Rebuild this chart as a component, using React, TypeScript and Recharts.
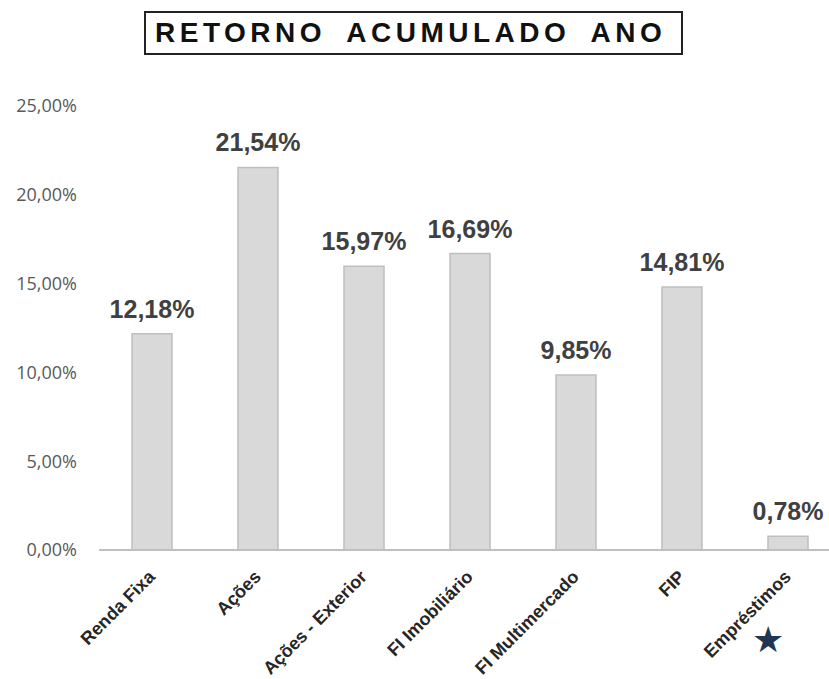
import React from 'react';
import { BarChart, Bar, XAxis, YAxis, LabelList } from 'recharts';

const categories = [
  'Renda Fixa',
  'Ações',
  'Ações - Exterior',
  'FI Imobiliário',
  'FI Multimercado',
  'FIP',
  'Empréstimos',
];
const returns = [12.18, 21.54, 15.97, 16.69, 9.85, 14.81, 0.78];
const yTicks = [0, 5, 10, 15, 20, 25];

const data = categories.map((name, i) => ({ name, value: returns[i] }));

const pct = (v: number) => v.toFixed(2).replace('.', ',') + '%';

const font = '"Liberation Sans", Arial, sans-serif';

const AngledTick = (props: any) => {
  const { x, y, payload } = props;
  return (
    <g transform={`translate(${x + 4},${y + 26})`}>
      <text
        transform="rotate(-45)"
        textAnchor="end"
        fill="#262626"
        fontFamily={font}
        fontWeight="bold"
        fontSize={18}
      >
        {payload.value}
      </text>
    </g>
  );
};

export default function App() {
  return (
    <div
      style={{
        position: 'absolute',
        left: 0,
        top: 0,
        width: 829,
        height: 679,
        overflow: 'hidden',
        background: '#fff',
      }}
    >
      <div
        style={{
          position: 'absolute',
          left: 144,
          top: 11,
          width: 539,
          height: 44,
          boxSizing: 'border-box',
          border: '2px solid #222',
          fontFamily: font,
          fontWeight: 'bold',
          fontSize: 28,
          letterSpacing: 4.5,
          wordSpacing: 9,
          lineHeight: '40px',
          paddingLeft: 9,
          whiteSpace: 'nowrap',
          color: '#111',
        }}
      >
        RETORNO ACUMULADO ANO
      </div>

      <BarChart
        width={860}
        height={679}
        data={data}
        margin={{ top: 106, right: 19, bottom: 0, left: 0 }}
        barCategoryGap={0}
      >
        <XAxis
          dataKey="name"
          interval={0}
          height={129}
          tickLine={false}
          tickSize={0}
          axisLine={{ stroke: '#bfbfbf', strokeWidth: 2 }}
          tick={<AngledTick />}
        />
        <YAxis
          width={99}
          domain={[0, 25]}
          ticks={yTicks}
          tickFormatter={pct}
          axisLine={false}
          tickLine={false}
          tickSize={0}
          tickMargin={22}
          tick={{ fill: '#595959', fontSize: 18, fontFamily: '"Open Sans", sans-serif' }}
        />
        <Bar
          dataKey="value"
          barSize={40}
          fill="#d9d9d9"
          stroke="#bfbfbf"
          strokeWidth={1.5}
          isAnimationActive={false}
        >
          <LabelList
            dataKey="value"
            position="top"
            offset={16}
            formatter={(v: any) => pct(Number(v))}
            fill="#404040"
            fontFamily={font}
            fontWeight="bold"
            fontSize={25}
          />
        </Bar>
      </BarChart>

      <div
        style={{
          position: 'absolute',
          left: 752,
          top: 618,
          fontSize: 36,
          lineHeight: '44px',
          fontFamily: '"DejaVu Sans", sans-serif',
          color: '#1f3550',
        }}
      >
        ★
      </div>
    </div>
  );
}
